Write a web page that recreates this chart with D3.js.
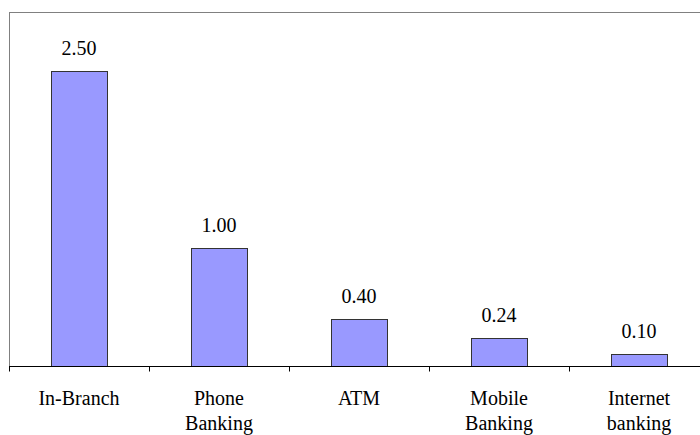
<!DOCTYPE html>
<html><head><meta charset="utf-8">
<script src="https://cdn.jsdelivr.net/npm/d3@7"></script>
<style>body{margin:0;background:#fff}</style>
</head><body><svg id="c" width="700" height="435"></svg>
<script>
const categories = ["In-Branch", "Phone Banking", "ATM", "Mobile Banking", "Internet banking"];
const labelLines = [["In-Branch"], ["Phone", "Banking"], ["ATM"], ["Mobile", "Banking"], ["Internet", "banking"]];
const values = [2.50, 1.00, 0.40, 0.24, 0.10];
const yTicks = [0, 3];

const svg = d3.select("#c");
const plotLeft = 9, plotTop = 12, plotBottom = 366, bandW = 140;
const x = d3.scaleBand().domain(categories).range([plotLeft, plotLeft + bandW * categories.length]).paddingInner(0).paddingOuter(0);
const y = d3.scaleLinear().domain([yTicks[0], yTicks[1]]).range([plotBottom, plotTop]);

// frame
svg.append("line").attr("x1", plotLeft + 0.5).attr("x2", 720).attr("y1", plotTop + 0.5).attr("y2", plotTop + 0.5).attr("stroke", "#808080");
svg.append("line").attr("x1", plotLeft + 0.5).attr("x2", plotLeft + 0.5).attr("y1", plotTop).attr("y2", plotBottom).attr("stroke", "#808080");

const barW = 56;
svg.selectAll("rect.bar").data(values).enter().append("rect")
  .attr("x", (d, i) => Math.round(x(categories[i]) + (bandW - barW) / 2) + 0.5)
  .attr("y", d => Math.round(y(d)) + 0.5)
  .attr("width", barW)
  .attr("height", d => Math.round(plotBottom) - Math.round(y(d)))
  .attr("fill", "#9999FF").attr("stroke", "#333");

values.forEach((d, i) => {
  svg.append("text")
    .attr("x", x(categories[i]) + bandW / 2)
    .attr("y", y(d) - 16)
    .attr("text-anchor", "middle")
    .style("font-family", '"Liberation Serif"').style("font-size", "20px")
    .text(d.toFixed(2));
});

// x axis
const ax = svg.append("g").attr("transform", `translate(0,${plotBottom + 0.5})`);
ax.append("line").attr("x1", plotLeft).attr("x2", 720).attr("stroke", "#000");
const tickPos = d3.range(categories.length + 1).map(i => plotLeft + i * bandW);
ax.selectAll("line.t").data(tickPos).enter().append("line")
  .attr("x1", d => d + 0.5).attr("x2", d => d + 0.5).attr("y1", 0).attr("y2", 5).attr("stroke", "#000");

categories.forEach((c, i) => {
  labelLines[i].forEach((ln, j) => {
    svg.append("text")
      .attr("x", x(c) + bandW / 2).attr("y", 405 + j * 25)
      .attr("text-anchor", "middle")
      .style("font-family", '"Liberation Serif"').style("font-size", "20px")
      .text(ln);
  });
});
</script></body></html>
